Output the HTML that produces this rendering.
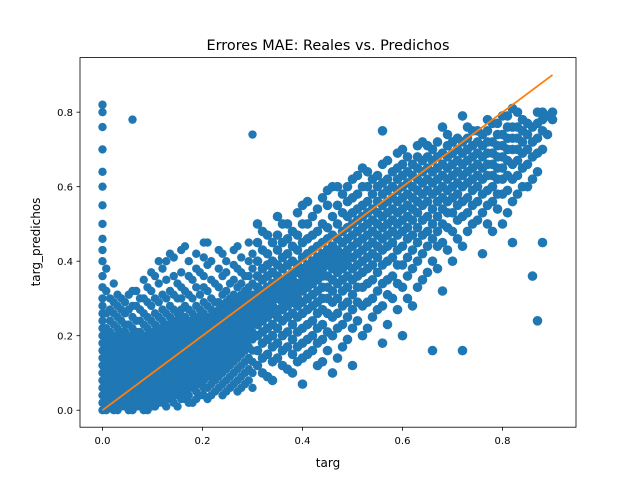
<!DOCTYPE html>
<html><head><meta charset="utf-8"><style>
html,body{margin:0;padding:0;background:#fff;}
svg{display:block;font-family:"DejaVu Sans","Liberation Sans",sans-serif;}
</style></head><body>
<svg id="chart" width="640" height="480" viewBox="0 0 640 480" xmlns="http://www.w3.org/2000/svg">
<rect width="640" height="480" fill="#fff"/>
<text x="328" y="50" font-size="14.4" text-anchor="middle">Errores MAE: Reales vs. Predichos</text>
<g id="points"></g>
<g id="line"></g>
<rect x="80" y="57.6" width="496" height="369.6" fill="none" stroke="#000" stroke-width="0.8"/>
<g id="xticks"></g>
<g id="yticks"></g>
<text x="328" y="467" font-size="12" text-anchor="middle">targ</text>
<text x="0" y="0" font-size="12" text-anchor="middle" transform="translate(40,242) rotate(-90)">targ_predichos</text>
</svg>
<script>
const xTicks = [0, 0.2, 0.4, 0.6, 0.8];
const yTicks = [0, 0.2, 0.4, 0.6, 0.8];
const tickLabels = ["0.0", "0.2", "0.4", "0.6", "0.8"];
const lineX = [0, 0.9];
const lineY = [0, 0.9];
const columns = [
[0.00,[0,.02,.04,.06,.08,.1,.12,.14,.16,.18,.2,.22,.24,.26,.28,.3,.33,.36,.4,.43,.46,.5,.55,.6,.64,.7,.76,.8,.82]],
[0.015,[.01,.03,.05,.07,.09,.11,.13,.15,.17,.19,.21,.24,.27,.3]],
[0.03,[0,.02,.04,.06,.08,.1,.12,.14,.16,.18,.2,.22,.25,.28,.31]],
[0.045,[.01,.03,.05,.07,.09,.11,.13,.15,.17,.19,.21,.23,.26,.29]],
[0.06,[0,.02,.04,.06,.08,.1,.12,.14,.16,.18,.2,.22,.25,.28,.32,.78]],
[0.075,[.01,.03,.05,.07,.09,.11,.13,.15,.17,.19,.21,.24,.27,.3]],
[0.09,[0,.02,.04,.06,.08,.1,.12,.14,.16,.18,.2,.22,.25,.29,.33]],
[0.105,[.01,.03,.05,.07,.09,.11,.13,.15,.17,.19,.21,.23,.26,.3,.36]],
[0.12,[.02,.04,.06,.08,.1,.12,.14,.16,.18,.2,.22,.24,.27,.31,.38]],
[0.135,[.03,.05,.07,.09,.11,.13,.15,.17,.19,.21,.23,.25,.28,.32,.42]],
[0.15,[.01,.04,.06,.08,.1,.12,.14,.16,.18,.2,.22,.24,.26,.3,.34]],
[0.165,[.03,.05,.07,.09,.11,.13,.15,.17,.19,.21,.23,.25,.28,.32,.44]],
[0.18,[.02,.06,.08,.1,.12,.14,.16,.18,.2,.22,.24,.26,.3,.35]],
[0.195,[.04,.07,.09,.11,.13,.15,.17,.19,.21,.23,.25,.27,.31,.37]],
[0.21,[.03,.06,.09,.11,.13,.15,.17,.19,.21,.23,.25,.28,.32,.39,.45]],
[0.225,[.05,.08,.1,.12,.14,.16,.18,.2,.22,.24,.26,.29,.34]],
[0.24,[.04,.07,.1,.12,.14,.16,.18,.2,.22,.24,.26,.28,.31,.36,.42]],
[0.255,[.06,.09,.12,.14,.16,.18,.2,.22,.24,.26,.28,.3,.34]],
[0.27,[.05,.08,.11,.14,.16,.18,.2,.22,.24,.26,.28,.3,.33,.38,.44]],
[0.285,[.07,.1,.13,.16,.18,.2,.22,.24,.26,.28,.3,.32,.36]],
[0.30,[.06,.1,.13,.16,.19,.21,.23,.25,.27,.29,.31,.34,.38,.42,.74]],
[0.32,[.1,.14,.18,.21,.24,.26,.28,.3,.32,.35,.38,.43,.48]],
[0.34,[.08,.13,.17,.2,.23,.26,.28,.3,.32,.34,.37,.4,.45]],
[0.36,[.12,.16,.2,.24,.27,.29,.31,.33,.35,.38,.41,.45,.5]],
[0.38,[.1,.15,.19,.23,.26,.29,.31,.33,.35,.37,.4,.44,.48]],
[0.40,[.07,.14,.18,.22,.26,.29,.32,.34,.36,.38,.41,.45,.5,.55]],
[0.42,[.16,.2,.24,.28,.31,.34,.36,.38,.4,.43,.47,.52]],
[0.44,[.13,.19,.23,.27,.3,.33,.36,.38,.4,.42,.45,.5,.57]],
[0.46,[.1,.2,.25,.29,.32,.35,.38,.4,.42,.44,.47,.52,.6]],
[0.48,[.17,.23,.28,.32,.35,.38,.4,.42,.45,.48,.53,.58]],
[0.50,[.12,.22,.27,.31,.35,.38,.41,.44,.47,.5,.53,.57,.62]],
[0.52,[.2,.28,.33,.37,.4,.43,.46,.49,.52,.55,.6,.65]],
[0.54,[.25,.3,.35,.39,.42,.45,.48,.51,.54,.58,.62]],
[0.56,[.18,.28,.34,.39,.43,.46,.49,.52,.55,.58,.61,.66,.75]],
[0.58,[.3,.36,.41,.45,.48,.51,.54,.57,.6,.64]],
[0.60,[.2,.33,.39,.44,.48,.51,.54,.57,.6,.63,.66,.7]],
[0.62,[.28,.38,.43,.47,.51,.54,.57,.6,.63,.66]],
[0.64,[.35,.42,.47,.51,.55,.58,.61,.64,.67,.72]],
[0.66,[.16,.4,.46,.5,.54,.58,.61,.64,.67,.7]],
[0.68,[.32,.45,.5,.54,.57,.6,.63,.66,.69,.76]],
[0.70,[.4,.48,.53,.57,.6,.63,.66,.69,.72]],
[0.72,[.16,.44,.52,.56,.6,.63,.66,.69,.72,.79]],
[0.74,[.5,.55,.59,.62,.65,.68,.71,.75]],
[0.76,[.42,.53,.58,.62,.65,.68,.71,.74]],
[0.78,[.48,.56,.6,.63,.66,.69,.72,.77]],
[0.80,[.5,.58,.62,.65,.68,.71,.74,.79]],
[0.82,[.45,.56,.62,.66,.7,.73,.76,.81]],
[0.84,[.6,.65,.69,.72,.75,.78]],
[0.86,[.36,.62,.68,.72,.76]],
[0.87,[.24]],
[0.88,[.45,.7,.75,.78,.8]],
[0.90,[.78,.8]]
];
const extraColumns = [
[0.0075,[0,.02,.04,.06,.08,.1,.12,.14,.16,.18,.2,.22,.26,.32,.38]],
[0.0225,[0,.02,.04,.06,.08,.1,.12,.14,.16,.18,.2,.23,.26,.29,.34]],
[0.0375,[.01,.03,.05,.07,.09,.11,.13,.15,.17,.19,.21,.24,.27,.3]],
[0.0525,[0,.02,.04,.06,.08,.1,.12,.14,.16,.18,.2,.23,.27,.31]],
[0.0675,[.01,.03,.05,.07,.09,.11,.13,.15,.17,.19,.21,.24,.28,.32]],
[0.0825,[0,.02,.04,.06,.08,.1,.12,.14,.16,.18,.2,.23,.26,.3,.35]],
[0.0975,[.01,.03,.05,.07,.09,.11,.13,.15,.17,.19,.21,.24,.28,.32,.37]],
[0.1125,[.02,.04,.06,.08,.1,.12,.14,.16,.18,.2,.22,.25,.29,.34,.4]],
[0.1275,[.01,.03,.05,.07,.09,.11,.13,.15,.17,.19,.21,.23,.26,.3,.35,.4]],
[0.1425,[.02,.04,.06,.08,.1,.12,.14,.16,.18,.2,.22,.24,.27,.31,.36,.41]],
[0.1575,[.03,.05,.07,.09,.11,.13,.15,.17,.19,.21,.23,.25,.27,.3,.33,.37,.43]],
[0.1725,[.02,.04,.06,.08,.1,.12,.14,.16,.18,.2,.22,.24,.27,.31,.36,.4]],
[0.1875,[.03,.05,.07,.09,.11,.13,.15,.17,.19,.21,.23,.25,.28,.33,.38,.42]],
[0.2025,[.04,.06,.08,.1,.12,.14,.16,.18,.2,.22,.24,.26,.29,.33,.36,.41,.45]],
[0.2175,[.04,.07,.09,.11,.13,.15,.17,.19,.21,.23,.25,.27,.3,.35,.4]],
[0.2325,[.06,.09,.11,.13,.15,.17,.19,.21,.23,.25,.27,.29,.33,.38,.43]],
[0.2475,[.05,.08,.11,.13,.15,.17,.19,.21,.23,.25,.27,.29,.32,.37,.4]],
[0.2625,[.07,.1,.13,.15,.17,.19,.21,.23,.25,.27,.29,.31,.35,.39,.43]],
[0.2775,[.06,.09,.12,.15,.17,.19,.21,.23,.25,.27,.29,.31,.34,.37,.41]],
[0.2925,[.08,.11,.14,.17,.19,.21,.23,.25,.27,.29,.31,.33,.36,.4,.45]],
[0.31,[.12,.16,.2,.23,.25,.27,.29,.31,.33,.36,.4,.45,.5]],
[0.33,[.09,.15,.19,.22,.25,.27,.29,.31,.33,.36,.39,.42,.47]],
[0.35,[.14,.18,.22,.25,.27,.3,.32,.34,.36,.39,.43,.47,.52]],
[0.37,[.11,.17,.21,.25,.28,.3,.32,.34,.36,.39,.42,.46,.5]],
[0.39,[.13,.17,.21,.25,.28,.3,.32,.34,.37,.39,.43,.47,.53]],
[0.41,[.15,.19,.23,.27,.3,.33,.35,.37,.39,.42,.46,.5,.56]],
[0.43,[.12,.18,.22,.26,.29,.32,.35,.37,.39,.41,.44,.48,.54]],
[0.45,[.16,.21,.26,.3,.33,.36,.39,.41,.43,.46,.49,.55,.59]],
[0.47,[.14,.22,.26,.3,.34,.37,.39,.41,.43,.46,.5,.55,.6]],
[0.49,[.19,.25,.29,.33,.36,.39,.41,.43,.46,.49,.52,.56,.6]],
[0.51,[.24,.29,.33,.36,.39,.42,.45,.48,.51,.54,.58,.63]],
[0.53,[.22,.29,.34,.38,.41,.44,.47,.5,.53,.56,.6,.64]],
[0.55,[.27,.32,.37,.41,.44,.47,.5,.53,.56,.6,.63]],
[0.57,[.23,.31,.35,.4,.44,.47,.5,.53,.56,.59,.62,.67]],
[0.59,[.27,.34,.39,.43,.47,.5,.53,.56,.59,.62,.65,.69]],
[0.61,[.3,.36,.41,.46,.49,.52,.55,.58,.61,.64,.68]],
[0.63,[.33,.4,.45,.49,.53,.56,.59,.62,.65,.68,.71]],
[0.65,[.37,.44,.48,.52,.56,.59,.62,.65,.68,.71]],
[0.67,[.38,.44,.48,.52,.56,.59,.62,.65,.68,.72]],
[0.69,[.43,.49,.53,.56,.59,.62,.65,.68,.71,.74]],
[0.71,[.46,.51,.55,.58,.61,.64,.67,.7,.73]],
[0.73,[.48,.53,.57,.61,.64,.67,.7,.73,.76]],
[0.75,[.51,.56,.6,.63,.66,.69,.72,.75]],
[0.77,[.5,.55,.59,.63,.66,.69,.72,.75,.78]],
[0.79,[.54,.58,.62,.65,.68,.71,.74,.77]],
[0.81,[.53,.59,.63,.67,.7,.73,.76,.79]],
[0.83,[.58,.63,.67,.7,.73,.76,.8]],
[0.85,[.6,.66,.7,.74,.77]],
[0.87,[.64,.69,.73,.77,.8]],
[0.89,[.74,.79]]
];
const NS = "http://www.w3.org/2000/svg";
const X0 = 80, X1 = 576, Y0 = 427.2, Y1 = 57.6;
const xMin = -0.045, xMax = 0.947, yMin = -0.0456, yMax = 0.9465;
function sx(v){ return X0 + (v - xMin) / (xMax - xMin) * (X1 - X0); }
function sy(v){ return Y0 - (v - yMin) / (yMax - yMin) * (Y0 - Y1); }
const pg = document.getElementById('points');
columns.concat(extraColumns).forEach(function(col){
  col[1].forEach(function(yv){
    const c = document.createElementNS(NS, 'circle');
    c.setAttribute('cx', sx(col[0]));
    c.setAttribute('cy', sy(yv));
    c.setAttribute('r', col[0] > 0.3 ? 4.8 : 4.2);
    c.setAttribute('fill', '#1f77b4');
    
    
    pg.appendChild(c);
  });
});
const lg = document.getElementById('line');
const ln = document.createElementNS(NS, 'line');
ln.setAttribute('x1', sx(lineX[0])); ln.setAttribute('y1', sy(lineY[0]));
ln.setAttribute('x2', sx(lineX[1])); ln.setAttribute('y2', sy(lineY[1]));
ln.setAttribute('stroke', '#ff7f0e'); ln.setAttribute('stroke-width', '1.8');


lg.appendChild(ln);
const xg = document.getElementById('xticks');
xTicks.forEach(function(v, i){
  const x = sx(v);
  const t = document.createElementNS(NS, 'line');
  t.setAttribute('x1', x); t.setAttribute('x2', x);
  t.setAttribute('y1', Y0); t.setAttribute('y2', Y0 + 3.5);
  t.setAttribute('stroke', '#000'); t.setAttribute('stroke-width', '0.8');
  
  
  xg.appendChild(t);
  const tx = document.createElementNS(NS, 'text');
  tx.setAttribute('x', x); tx.setAttribute('y', Y0 + 17);
  tx.setAttribute('font-size', '10'); tx.setAttribute('text-anchor', 'middle');
  tx.textContent = tickLabels[i];
  
  
  xg.appendChild(tx);
});
const yg = document.getElementById('yticks');
yTicks.forEach(function(v, i){
  const y = sy(v);
  const t = document.createElementNS(NS, 'line');
  t.setAttribute('x1', X0 - 3.5); t.setAttribute('x2', X0);
  t.setAttribute('y1', y); t.setAttribute('y2', y);
  t.setAttribute('stroke', '#000'); t.setAttribute('stroke-width', '0.8');
  
  
  yg.appendChild(t);
  const tx = document.createElementNS(NS, 'text');
  tx.setAttribute('x', X0 - 7); tx.setAttribute('y', y + 3.6);
  tx.setAttribute('font-size', '10'); tx.setAttribute('text-anchor', 'end');
  tx.textContent = tickLabels[i];
  
  
  yg.appendChild(tx);
});
</script>
</body></html>
